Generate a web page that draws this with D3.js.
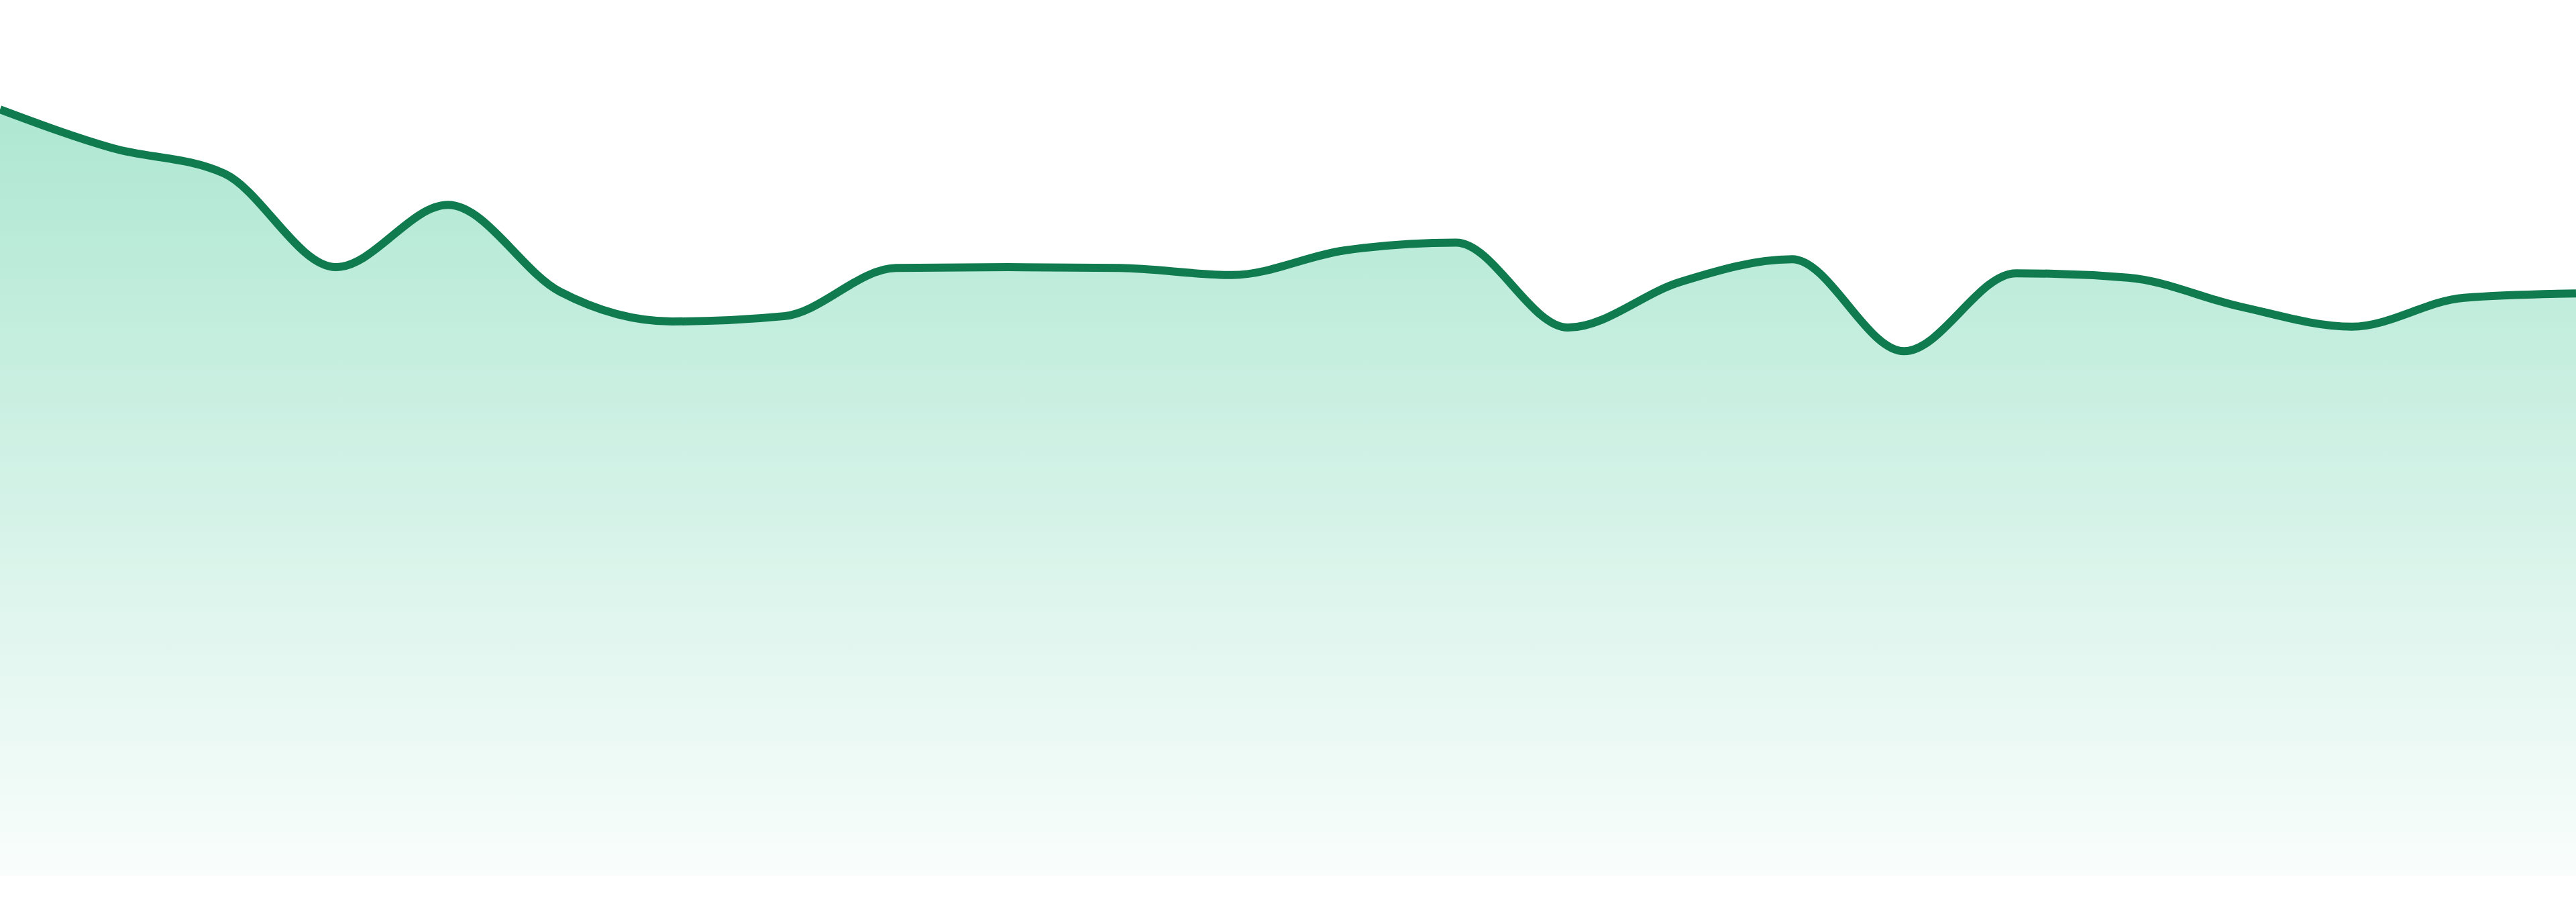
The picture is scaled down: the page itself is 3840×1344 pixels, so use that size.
<!DOCTYPE html>
<html>
<head>
<meta charset="utf-8">
<script src="https://cdn.jsdelivr.net/npm/d3@7"></script>
<style>
  html, body { margin: 0; padding: 0; background: #ffffff; }
  svg { display: block; }
</style>
</head>
<body>
<div id="chart"></div>
<script>
// one point per step
const steps = d3.range(24);
const values = [87.5, 83.1, 80.2, 69.5, 76.6, 66.7, 63.3, 63.9, 69.4, 69.5, 69.4, 68.6,
                71.4, 72.3, 62.6, 67.8, 70.4, 59.9, 68.8, 68.3, 65.0, 62.7, 66.0, 66.5];

const width = 3840;
const height = 1344;
const baseline = 1305;

const svg = d3.select("#chart").append("svg")
    .attr("width", width)
    .attr("height", height);

const x = d3.scaleLinear()
    .domain([0, steps.length - 1])
    .range([0, width]);

const y = d3.scaleLinear()
    .domain([0, 100])
    .range([baseline, 0]);

const data = steps.map((s, i) => ({ step: s, value: values[i] }));

const defs = svg.append("defs");
const grad = defs.append("linearGradient")
    .attr("id", "fillGrad")
    .attr("gradientUnits", "userSpaceOnUse")
    .attr("x1", 0).attr("x2", 0)
    .attr("y1", y(d3.max(values)))
    .attr("y2", baseline);
grad.append("stop").attr("offset", "0%").attr("stop-color", "#34c38f").attr("stop-opacity", 0.4);
grad.append("stop").attr("offset", "100%").attr("stop-color", "#34c38f").attr("stop-opacity", 0.03);

const area = d3.area()
    .x(d => x(d.step))
    .y0(baseline)
    .y1(d => y(d.value))
    .curve(d3.curveMonotoneX);

const line = d3.line()
    .x(d => x(d.step))
    .y(d => y(d.value))
    .curve(d3.curveMonotoneX);

svg.append("path")
    .datum(data)
    .attr("d", area)
    .attr("fill", "url(#fillGrad)");

svg.append("path")
    .datum(data)
    .attr("d", line)
    .attr("fill", "none")
    .attr("stroke", "#117b50")
    .attr("stroke-width", 12);
</script>
</body>
</html>
